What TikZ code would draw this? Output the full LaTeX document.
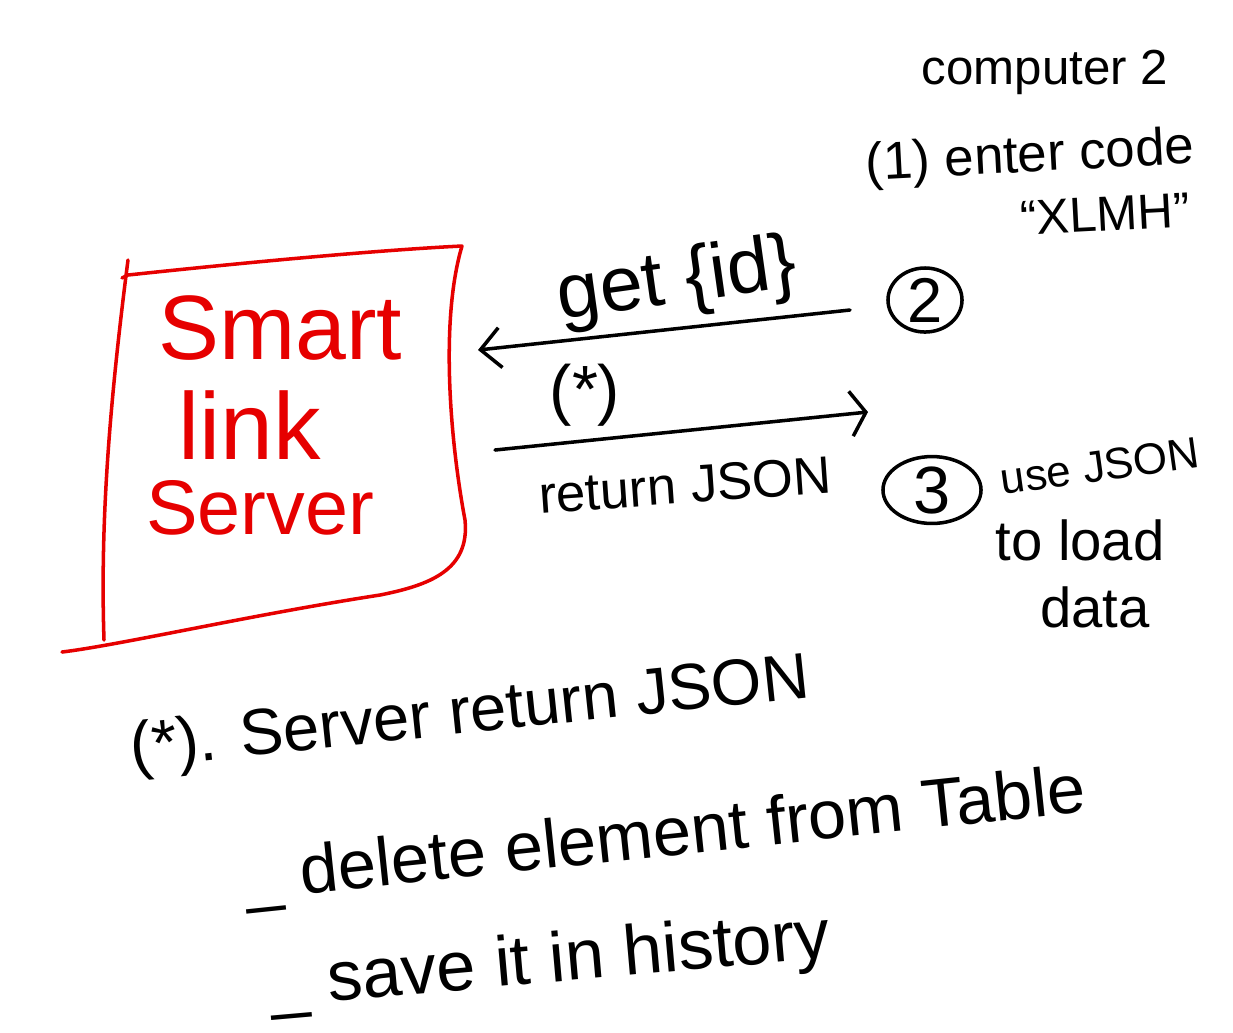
\documentclass[tikz,border=0pt]{standalone}
\usepackage{fontspec}
\setmainfont{Liberation Sans}
\usetikzlibrary{arrows.meta,shapes.geometric}
\newcommand\inksize[1]{\fontsize{#1pt}{#1pt}\selectfont}
\definecolor{penred}{RGB}{230,0,0}
\begin{document}
\begin{tikzpicture}[x=0.01cm, y=-0.01cm,
        ink/.style={line width=1pt, line cap=round, line join=round},
        redink/.style={ink, draw=penred},
        note/.style={inner sep=0pt, align=center},
        stepmark/.style={ink, draw, ellipse, inner sep=0pt}]
    \useasboundingbox[fill=white] (0,0) rectangle (1233,1032);
    % computer 2 side
    \node[note, font=\inksize{14}] (comp) at (1045,72) {computer 2};
    \node[note, font=\inksize{15}, rotate=3] (enter) at (1030,158) {(1) enter code};
    \node[note, font=\inksize{14}, rotate=3] (code) at (1105,214) {“XLMH”};
    \node[stepmark, minimum width=0.74cm, minimum height=0.64cm, font=\inksize{18}] (c2) at (925,300) {2};
    \node[stepmark, minimum width=0.98cm, minimum height=0.62cm, font=\inksize{19}] (c3) at (932,490) {3};
    \node[note, font=\inksize{12.5}, rotate=8] (use) at (1100,466) {use JSON};
    \node[note, font=\inksize{16}] (load) at (1080,540) {to load};
    \node[note, font=\inksize{16}] (data) at (1095,607) {data};
    % server box
    \draw[redink] (128,260) .. controls (110,400) and (100,520) .. (104,640);
    \draw[redink] (122,278) -- (128,275) .. controls (250,262) and (380,250) .. (462,246)
        .. controls (440,320) and (450,440) .. (465,520)
        .. controls (470,570) and (430,585) .. (380,595)
        .. controls (250,615) and (120,645) .. (62,652);
    \node[note, text=penred, font=\inksize{26}] (smart) at (280,328) {Smart};
    \node[note, text=penred, font=\inksize{27}] (link) at (250,425) {link};
    \node[note, text=penred, font=\inksize{22}] (server) at (260,508) {Server};
    % requests
    \coordinate (getA) at (850,310);
    \coordinate (getB) at (478,350);
    \coordinate (retA) at (495,450);
    \coordinate (retB) at (868,412);
    \draw[ink, -{Straight Barb[length=0.2cm, width=0.4cm]}] (getA) -- (getB);
    \draw[ink, -{Straight Barb[length=0.15cm, width=0.45cm]}] (retA) -- (retB);
    \node[note, font=\inksize{22}, rotate=8] (get) at (677,283) {get \{id\}};
    \node[note, font=\inksize{19}] (star) at (585,395) {(*)};
    \node[note, font=\inksize{15}, rotate=4] (ret) at (685,485) {return JSON};
    % notes below
    \node[note, font=\inksize{18.5}, rotate=6] (n1) at (470,716) {(*). Server return JSON};
    \node[note, font=\inksize{19.5}, rotate=6] (n2) at (665,838) {\_ delete element from Table};
    \node[note, font=\inksize{20}, rotate=5] (n3) at (550,964) {\_ save it in history};
\end{tikzpicture}
\end{document}
